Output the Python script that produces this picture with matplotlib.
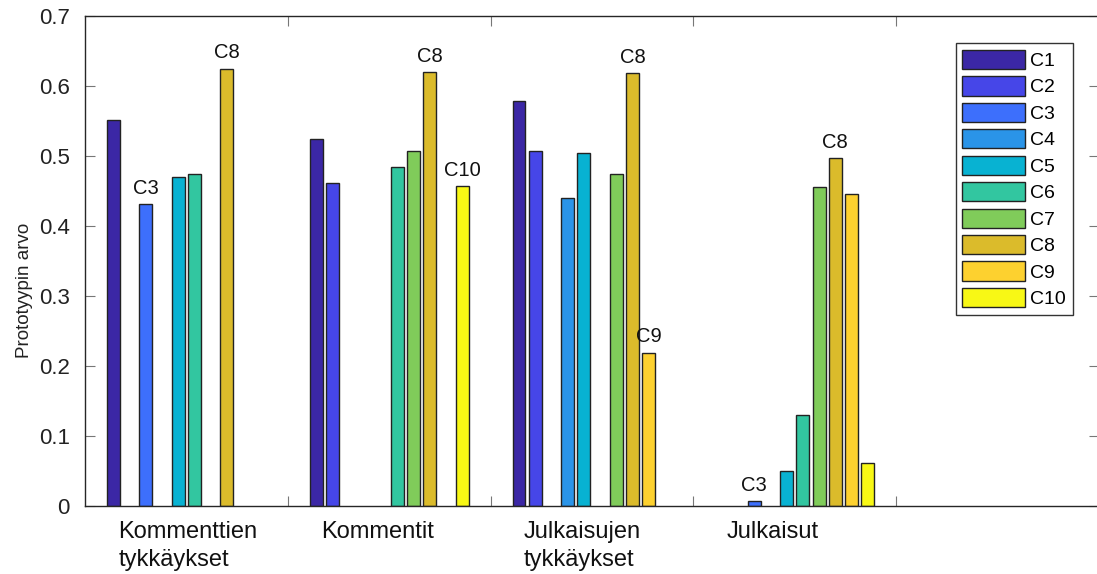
import numpy as np
import matplotlib
matplotlib.use("Agg")
import matplotlib.pyplot as plt

plt.rcParams['font.family'] = ['Liberation Sans', 'DejaVu Sans']

# group labels (left-aligned text under each group)
groups = ["Kommenttien\ntykkäykset", "Kommentit", "Julkaisujen\ntykkäykset", "Julkaisut"]
series = ["C1", "C2", "C3", "C4", "C5", "C6", "C7", "C8", "C9", "C10"]

# values per series, one entry per group (nan = no bar)
nan = np.nan
C1 = [0.551, 0.524, 0.579, nan]
C2 = [nan, 0.462, 0.507, nan]
C3 = [0.431, nan, nan, 0.007]
C4 = [nan, nan, 0.440, nan]
C5 = [0.470, nan, 0.504, 0.050]
C6 = [0.475, 0.484, nan, 0.130]
C7 = [nan, 0.507, 0.475, 0.456]
C8 = [0.625, 0.620, 0.618, 0.497]
C9 = [nan, nan, 0.219, 0.446]
C10 = [nan, 0.457, nan, 0.061]
values = [C1, C2, C3, C4, C5, C6, C7, C8, C9, C10]

colors = ["#3b27a5", "#4646e8", "#3d6ffc", "#2a94e8", "#08b2d2",
          "#32c6a0", "#80cc5a", "#dbbb2b", "#fdd12f", "#f8f815"]

# which bars get a name on top: (group index, series index)
labelled = [(0, 2), (0, 7), (1, 7), (1, 9), (2, 7), (2, 8), (3, 2), (3, 7)]

fig = plt.figure(figsize=(10.97, 5.74), dpi=100)
ax = fig.add_axes([85 / 1097, 68 / 574, (1099 - 85) / 1097, 490 / 574])

x = np.arange(1, len(groups) + 1)
step = 0.08
width = 0.064
for i, name in enumerate(series):
    off = (i - 4.5) * step
    ax.bar(x + off, values[i], width=width, color=colors[i],
           edgecolor="#222222", linewidth=1.0, label=name, zorder=2)

for g, s in labelled:
    v = values[s][g]
    ax.text(x[g] + (s - 4.5) * step, v + 0.009, series[s], ha="center",
            va="bottom", fontsize=14.5, color="#111111")

ax.set_xlim(0.5, 5.5)
ax.set_ylim(0, 0.7)
ax.set_yticks(np.arange(0, 0.71, 0.1))
ax.set_yticklabels(["0", "0.1", "0.2", "0.3", "0.4", "0.5", "0.6", "0.7"])
ax.set_xticks([1.5, 2.5, 3.5, 4.5])
ax.set_xticklabels([])
ax.tick_params(direction="in", length=7, width=0.8, color="#777777",
               labelsize=16, labelcolor="#222222", top=True, right=True, pad=11)
for sp in ax.spines.values():
    sp.set_color("#262626")
    sp.set_linewidth(1.0)

ax.set_ylabel("Prototyypin arvo", fontsize=13.5, color="#222222")
ax.yaxis.set_label_coords(-0.051, 0.44)

for g, name in enumerate(groups):
    ax.text(x[g] - 0.335, -0.022, name, ha="left", va="top", fontsize=17,
            color="#111111", linespacing=1.32)

leg = ax.legend(loc="upper right", bbox_to_anchor=(988 / 1014, 1 - 27 / 490),
                fontsize=14, handlelength=3.2, handleheight=1.15,
                labelspacing=0.32, handletextpad=0.3, borderpad=0.35,
                borderaxespad=0, fancybox=False, framealpha=1,
                edgecolor="#333333")
leg.get_frame().set_linewidth(1.0)

fig.savefig("out.png", dpi=100)
